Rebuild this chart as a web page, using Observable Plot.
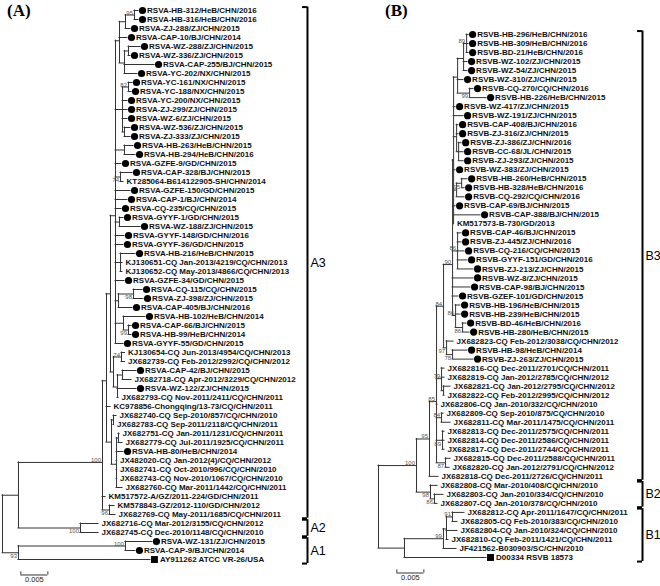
<!DOCTYPE html>
<html><head><meta charset="utf-8">
<script src="https://cdn.jsdelivr.net/npm/d3@7"></script>
<script src="https://cdn.jsdelivr.net/npm/@observablehq/plot@0.6"></script>
<style>
body{margin:0;background:#fff}
#wrap{position:relative;width:660px;height:586px;overflow:hidden;background:#fff}
.panel{position:absolute;top:0}
.plab{position:absolute;top:2px;font:bold 17px "Liberation Serif","Times New Roman",serif;color:#000;line-height:1}
</style></head>
<body><div id="wrap"></div>
<script>
// ---------- DATA ----------
const namesA = [
"RSVA-HB-312/HeB/CHN/2016","RSVA-HB-316/HeB/CHN/2016","RSVA-ZJ-288/ZJ/CHN/2015","RSVA-CAP-10/BJ/CHN/2014",
"RSVA-WZ-288/ZJ/CHN/2015","RSVA-WZ-336/ZJ/CHN/2015","RSVA-CAP-255/BJ/CHN/2015","RSVA-YC-202/NX/CHN/2015",
"RSVA-YC-161/NX/CHN/2015","RSVA-YC-188/NX/CHN/2015","RSVA-YC-200/NX/CHN/2015","RSVA-ZJ-299/ZJ/CHN/2015",
"RSVA-WZ-6/ZJ/CHN/2015","RSVA-WZ-536/ZJ/CHN/2015","RSVA-ZJ-333/ZJ/CHN/2015","RSVA-HB-263/HeB/CHN/2015",
"RSVA-HB-294/HeB/CHN/2016","RSVA-GZFE-9/GD/CHN/2015","RSVA-CAP-328/BJ/CHN/2015","KT285064-B614122905-SH/CHN/2014",
"RSVA-GZFE-150/GD/CHN/2015","RSVA-CAP-1/BJ/CHN/2014","RSVA-CQ-235/CQ/CHN/2015","RSVA-GYYF-1/GD/CHN/2015",
"RSVA-WZ-188/ZJ/CHN/2015","RSVA-GYYF-148/GD/CHN/2016","RSVA-GYYF-36/GD/CHN/2015","RSVA-HB-216/HeB/CHN/2015",
"KJ130651-CQ Jan-2013/4219/CQ/CHN/2013","KJ130652-CQ May-2013/4866/CQ/CHN/2013","RSVA-GZFE-34/GD/CHN/2015",
"RSVA-CQ-115/CQ/CHN/2015","RSVA-ZJ-398/ZJ/CHN/2015","RSVA-CAP-405/BJ/CHN/2016","RSVA-HB-102/HeB/CHN/2014",
"RSVA-CAP-66/BJ/CHN/2015","RSVA-HB-99/HeB/CHN/2014","RSVA-GYYF-55/GD/CHN/2015","KJ130654-CQ Jun-2013/4954/CQ/CHN/2013",
"JX682739-CQ Feb-2012/2992/CQ/CHN/2012","RSVA-CAP-42/BJ/CHN/2015","JX682718-CQ Apr-2012/3229/CQ/CHN/2012",
"RSVA-WZ-122/ZJ/CHN/2015","JX682793-CQ Nov-2011/2411/CQ/CHN/2011","KC978856-Chongqing/13-73/CQ/CHN/2011",
"JX682740-CQ Sep-2010/857/CQ/CHN/2010","JX682783-CQ Sep-2011/2118/CQ/CHN/2011","JX682751-CQ Jan-2011/1231/CQ/CHN/2011",
"JX682779-CQ Jul-2011/1925/CQ/CHN/2011","RSVA-HB-80/HeB/CHN/2014","JX482020-CQ Jan-2012(4)/CQ/CHN/2012",
"JX682741-CQ Oct-2010/996/CQ/CHN/2010","JX682743-CQ Nov-2010/1067/CQ/CHN/2010","JX682760-CQ Mar-2011/1442/CQ/CHN/2011",
"KM517572-A/GZ/2011-224/GD/CHN/2011","KM578843-GZ/2012-110/GD/CHN/2012","JX682769-CQ May-2011/1685/CQ/CHN/2011",
"JX682716-CQ Mar-2012/3155/CQ/CHN/2012","JX682745-CQ Dec-2010/1148/CQ/CHN/2010","RSVA-WZ-131/ZJ/CHN/2015",
"RSVA-CAP-9/BJ/CHN/2014","AY911262 ATCC VR-26/USA"];

const namesB = [
"RSVB-HB-296/HeB/CHN/2016","RSVB-HB-309/HeB/CHN/2016","RSVB-BD-21/HeB/CHN/2016","RSVB-WZ-102/ZJ/CHN/2015",
"RSVB-WZ-54/ZJ/CHN/2015","RSVB-WZ-310/ZJ/CHN/2015","RSVB-CQ-270/CQ/CHN/2016","RSVB-HB-226/HeB/CHN/2015",
"RSVB-WZ-417/ZJ/CHN/2015","RSVB-WZ-191/ZJ/CHN/2015","RSVB-CAP-408/BJ/CHN/2016","RSVB-ZJ-316/ZJ/CHN/2015",
"RSVB-ZJ-386/ZJ/CHN/2016","RSVB-CC-68/JL/CHN/2015","RSVB-ZJ-293/ZJ/CHN/2015","RSVB-WZ-383/ZJ/CHN/2015",
"RSVB-HB-260/HeB/CHN/2015","RSVB-HB-328/HeB/CHN/2016","RSVB-CQ-292/CQ/CHN/2016","RSVB-CAP-69/BJ/CHN/2015",
"RSVB-CAP-388/BJ/CHN/2015","KM517573-B-730/GD/2013","RSVB-CAP-46/BJ/CHN/2015","RSVB-ZJ-445/ZJ/CHN/2016",
"RSVB-CQ-216/CQ/CHN/2015","RSVB-GYYF-151/GD/CHN/2016","RSVB-ZJ-213/ZJ/CHN/2015","RSVB-WZ-8/ZJ/CHN/2015",
"RSVB-CAP-98/BJ/CHN/2015","RSVB-GZEF-101/GD/CHN/2015","RSVB-HB-196/HeB/CHN/2015","RSVB-HB-239/HeB/CHN/2015",
"RSVB-BD-46/HeB/CHN/2016","RSVB-HB-280/HeB/CHN/2015","JX682823-CQ Feb-2012/3038/CQ/CHN/2012","RSVB-HB-98/HeB/CHN/2014",
"RSVB-ZJ-263/ZJ/CHN/2015","JX682816-CQ Dec-2011/2701/CQ/CHN/2011","JX682819-CQ Jan-2012/2785/CQ/CHN/2012",
"JX682821-CQ Jan-2012/2795/CQ/CHN/2012","JX682822-CQ Feb-2012/2995/CQ/CHN/2012","JX682806-CQ Jan-2010/332/CQ/CHN/2010",
"JX682809-CQ Sep-2010/875/CQ/CHN/2010","JX682811-CQ Mar-2011/1475/CQ/CHN/2011","JX682813-CQ Dec-2011/2575/CQ/CHN/2011",
"JX682814-CQ Dec-2011/2586/CQ/CHN/2011","JX682817-CQ Dec-2011/2744/CQ/CHN/2011","JX682815-CQ Dec-2011/2588/CQ/CHN/2011",
"JX682820-CQ Jan-2012/2791/CQ/CHN/2012","JX682818-CQ Dec-2011/2726/CQ/CHN/2011","JX682808-CQ Mar-2010/408/CQ/CHN/2010",
"JX682803-CQ Jan-2010/334/CQ/CHN/2010","JX682807-CQ Jan-2010/378/CQ/CHN/2010","JX682812-CQ Apr-2011/1647/CQ/CHN/2011",
"JX682805-CQ Feb-2010/383/CQ/CHN/2010","JX682804-CQ Jan-2010/324/CQ/CHN/2010","JX682810-CQ Feb-2011/1421/CQ/CHN/2011",
"JF421562-B030903/SC/CHN/2010","D00334 RSVB 18573"];

// reference strains (square markers); RSVA-/RSVB- strains of this study carry dots
const referenceStrains = ["AY911262 ATCC VR-26/USA", "D00334 RSVB 18573"];

// Trees (Newick; leaves are indices into the name lists, internal labels are bootstrap values, "b" = label under the branch)
const newickA = `(
 ((
  ((
   (
    (((0:0.00074,1:0.00074)95:0.00167,2:0.00093):0.00111,3:0.00148,((4:0.00222,5:0.00037):0.00074,6:0.00556,7:0.00241):0.00093):0.00074,
    ((8:0.00074,9:0.00056)82:0.00111,10:0.00093,11:0.00093,12:0.00093,(13:0.00111,14:0.00111):0.00037):0.0013,
    (15:0.00167,16:0.00204):0.00167,
    17:0.00111,
    (18:0.00222,19:0.00056)74b:0.00093,
    20:0.00278,21:0.00222,22:0.00111,
    (23:0.00074,24:0.00389):0.00074,
    25:0.00167,26:0.00148,
    (27:0.00278,28:0.00037,29:0.00037):0.00093,
    30:0.00167,
    ((31:0.00167,32:0.00185)98b:0.00278,33:0.00259):0.00056,
    (34:0.00407,(35:0.00056,36:0.00056)99b:0.00093):0.00148,
    37:0.00148
   ):0.00093,
   ((38:0.00065,39:0.00065)74:0.00148,((40:0.00259,41:0.00167):0.00093,42:0.00352,43:0.00019):0.00074):0.00056
  ):0.00074,
  44:0.00074,
  ((45:0.00056,46:0.00009):0.00037,((47:0.00019,48:0.00074):0.00037,49:0.0013,50:0.00009,51:0.00009,52:0.00009,53:0.00111):0.00093):0.00093
  ):0.00074,
  54:0.00056,
  (55:0.00093,56:0.00111)96b:0.0013
 )100:0.01556,
 (57:0.00333,58:0.00333)100b:0.01148
 ):0.00296,
 ((59:0.005,60:0.00185)100:0.01981,61:0.02444)93b:0.00296
)`;

const newickB = `(
 ((
   (
    (
     (
      (
       (((0:0.00037,1:0.00037,2:0.00037)89:0.00056,3:0.00074,4:0.00074):0.00111,5:0.00111,(6:0.00074,7:0.00315)99b:0.00222):0.00074,
       8:0.00037,9:0.00185,
       (10:0.00037,11:0.00037,(12:0.00056,13:0.00093,14:0.00093):0.00037):0.00056,
       15:0.00037,
       ((16:0.00111,17:0.00056)95b:0.00093,18:0.00148):0.00056,
       19:0.00037,20:0.005,21:0.00005
      ):0.00019,
      (22:0.00074,23:0.00074,24:0.0013,25:0.00185,26:0.00296)86:0.00093,
      27:0.00389,28:0.00333,29:0.00111,
      (30:0.00093,31:0.00093,(32:0.00074,33:0.0013)86b:0.0013)86:0.00056
     )90:0.00167,
     (34:0.0013,(35:0.00278,36:0.00389)78b:0.00111)97b:0.00056
    )84:0.0013,
    (37:0.00056,38:0.00056,(39:0.0013,40:0.00019):0.00037)79:0.00093,
    41:0.00019,
    (42:0.00037,43:0.00167)84:0.00093,
    (44:0.00037,45:0.00037,46:0.00037)89b:0.00111,
    (47:0.00093,48:0.00074)87b:0.00167
   )85:0.0013,
   49:0.00167
  )95:0.00241,
  (50:0.0013,(51:0.00167,52:0.00056)86b:0.00074)98b:0.00259
 )100:0.00704,
 ((((53:0.00222,54:0.00093)91:0.00111,55:0.00204,56:0.00037):0.00056,57:0.00241)99:0.00722,58:0.01519):0.00481
)`;

// genotype brackets: [label, first leaf, last leaf]
const cladesA = [["A3", 0, 56], ["A2", 57, 58], ["A1", 59, 61]];
const cladesB = [["B3", 0, 49], ["B2", 50, 52], ["B1", 53, 58]];
const scaleBarLength = 0.005;
const scaleBarLabel = "0.005";

// ---------- layout helpers ----------
function parseNewick(str) {
  const s = str.replace(/\s+/g, "");
  let i = 0;
  function node() {
    const n = {children: []};
    if (s[i] === "(") {
      i++;
      n.children.push(node());
      while (s[i] === ",") { i++; n.children.push(node()); }
      i++;
    }
    let lab = "";
    while (i < s.length && !":,();".includes(s[i])) lab += s[i++];
    n.label = lab;
    n.length = 0;
    if (s[i] === ":") {
      i++; let num = "";
      while (i < s.length && !",();".includes(s[i])) num += s[i++];
      n.length = +num;
    }
    return n;
  }
  return node();
}

function buildTree(newick, names) {
  const root = parseNewick(newick);
  root.length = 0;
  (function setX(n, base) { n.x = base + n.length; n.children.forEach(c => setX(c, n.x)); })(root, 0);
  (function setY(n) {
    if (!n.children.length) n.y = +n.label;
    else { n.children.forEach(setY); n.y = d3.mean(n.children, c => c.y); }
  })(root);
  const h = [], v = [], leaves = [], boots = [];
  (function walk(n, p) {
    if (p) h.push({x1: p.x, x2: n.x, y: n.y});
    if (n.children.length) {
      v.push({x: n.x, y1: d3.min(n.children, c => c.y), y2: d3.max(n.children, c => c.y)});
      if (n.label) boots.push({x: n.x, y: n.y, text: n.label.replace("b", ""), below: n.label.endsWith("b")});
      n.children.forEach(c => walk(c, n));
    } else {
      const name = names[+n.label];
      const marker = referenceStrains.includes(name) ? "square" : (name.startsWith("RSV") ? "dot" : "none");
      leaves.push({x: n.x, y: n.y, name, marker});
    }
  })(root, null);
  return {h, v, leaves, boots};
}

const PX_PER_UNIT = 5400;

function panel({newick, names, clades, rootPx, y0, y1, bracketX}) {
  const t = buildTree(newick, names);
  const n = names.length;
  const tick = 5 / PX_PER_UNIT;
  const lineColor = "#333";
  const font = "Liberation Sans, Arial, Helvetica, sans-serif";
  const br = [];
  clades.forEach(([lab, a, b], k) => {
    const top = a - (k === 0 ? 0.38 : 0.5) + (k === 0 ? 0 : 0.08);
    const bot = b + (k === clades.length - 1 ? 0.45 : 0.5) - (k === clades.length - 1 ? 0 : 0.08);
    br.push({lab, top, bot, mid: (top + bot) / 2});
  });
  const sbStart = 0.0034, sbY = n + 0.72;
  const txt = {x: "x", y: "y", text: "name", textAnchor: "start", fontSize: 8, fontWeight: "bold", fontFamily: font, fill: "#111"};
  return Plot.plot({
    width: 330, height: 586, margin: 0,
    x: {domain: [0, 0.06], range: [rootPx, rootPx + 0.06 * PX_PER_UNIT], axis: null},
    y: {domain: [0, n - 1], range: [y0, y1], axis: null},
    style: {background: "transparent", overflow: "visible"},
    marks: [
      Plot.ruleY(t.h, {x1: "x1", x2: "x2", y: "y", stroke: lineColor, strokeWidth: 1, strokeLinecap: "square"}),
      Plot.ruleX(t.v, {x: "x", y1: "y1", y2: "y2", stroke: lineColor, strokeWidth: 1, strokeLinecap: "square"}),
      Plot.dot(t.leaves.filter(d => d.marker === "dot"), {x: "x", y: "y", dx: 4, r: 3.6, fill: "#000", stroke: "none"}),
      Plot.dot(t.leaves.filter(d => d.marker === "square"), {x: "x", y: "y", dx: 4, r: 3.9, symbol: "square", fill: "#000", stroke: "none"}),
      Plot.text(t.leaves.filter(d => d.marker === "dot"), {...txt, dx: 8.5}),
      Plot.text(t.leaves.filter(d => d.marker === "square"), {...txt, dx: 9.5}),
      Plot.text(t.leaves.filter(d => d.marker === "none"), {...txt, dx: 3}),
      Plot.text(t.boots.filter(d => !d.below), {x: "x", y: "y", text: "text", textAnchor: "end", lineAnchor: "bottom", dx: -1.5, dy: -0.5, fontSize: 6, fontFamily: font, fill: "#555"}),
      Plot.text(t.boots.filter(d => d.below), {x: "x", y: "y", text: "text", textAnchor: "end", lineAnchor: "top", dx: -1.5, dy: 1, fontSize: 6, fontFamily: font, fill: "#555"}),
      // genotype brackets
      Plot.ruleX(br, {x: bracketX, y1: "top", y2: "bot", stroke: "#000", strokeWidth: 2}),
      Plot.ruleY(br, {y: "top", x1: bracketX - tick, x2: bracketX, stroke: "#000", strokeWidth: 2}),
      Plot.ruleY(br, {y: "bot", x1: bracketX - tick, x2: bracketX, stroke: "#000", strokeWidth: 2}),
      Plot.text(br, {x: bracketX, y: "mid", text: "lab", textAnchor: "start", dx: 3, fontSize: 12.5, fontFamily: font, fill: "#000"}),
      // scale bar
      Plot.ruleY([sbY], {x1: sbStart, x2: sbStart + scaleBarLength, stroke: lineColor, strokeWidth: 1}),
      Plot.ruleX([sbStart, sbStart + scaleBarLength], {x: d => d, y1: sbY - 0.35, y2: sbY, stroke: lineColor, strokeWidth: 1}),
      Plot.text([scaleBarLabel], {x: sbStart + scaleBarLength / 2, y: sbY, text: d => d, lineAnchor: "top", dy: 1.5, fontSize: 7.5, fontFamily: font, fill: "#222"})
    ]
  });
}

const wrap = document.getElementById("wrap");
const pa = panel({newick: newickA, names: namesA, clades: cladesA, rootPx: 2, y0: 10, y1: 559, bracketX: 0.05648});
const pb = panel({newick: newickB, names: namesB, clades: cladesB, rootPx: 48, y0: 34, y1: 557, bracketX: 0.04889});
pa.classList.add("panel"); pa.style.left = "0px";
pb.classList.add("panel"); pb.style.left = "330px";
wrap.appendChild(pa); wrap.appendChild(pb);
const la = document.createElement("div"); la.className = "plab"; la.style.left = "7px"; la.textContent = "(A)";
const lb = document.createElement("div"); lb.className = "plab"; lb.style.left = "385px"; lb.textContent = "(B)";
wrap.appendChild(la); wrap.appendChild(lb);
</script></body></html>
